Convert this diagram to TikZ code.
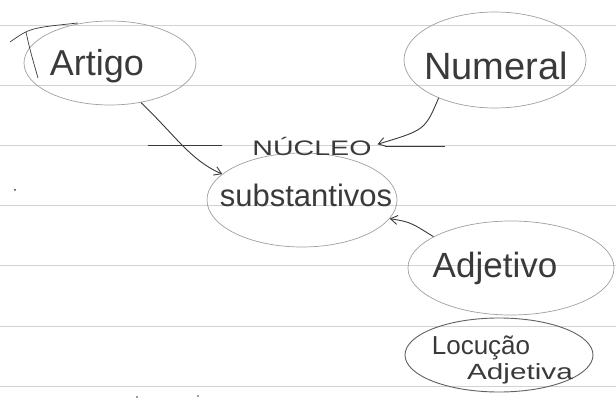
\documentclass[tikz,border=0pt]{standalone}
\usepackage{fontspec}
\setmainfont{Liberation Sans}
\usetikzlibrary{shapes.geometric,arrows.meta}
\definecolor{pencil}{HTML}{3A3A3A}
\definecolor{ring}{HTML}{A0A0A0}
\definecolor{ruled}{HTML}{D2D2D2}
\tikzset{
  ell/.style={ellipse, draw=ring, line width=0.7pt, inner sep=0pt},
  ellDark/.style={ellipse, draw=pencil!80, line width=0.9pt, inner sep=0pt},
  txt/.style={text=pencil, inner sep=0pt},
  conn/.style={draw=pencil, line width=0.9pt, -{Straight Barb[length=7pt,width=9pt]}},
  ruleline/.style={draw=ruled, line width=0.8pt},
  stroke/.style={draw=pencil, line width=0.9pt}
}
\begin{document}
\begin{tikzpicture}[x=1pt,y=-1pt]
\useasboundingbox[fill=white] (0,0) rectangle (616,398);
% ruled paper lines
\foreach \yy in {25,85,145,205,265,326,386}
  \draw[ruleline] (0,\yy) -- (616,\yy);
% ellipses
\node[ell, minimum width=172pt, minimum height=84pt] (Aell) at (110,63) {};
\node[ell, minimum width=182pt, minimum height=96pt] (Nell) at (495,60) {};
\node[ell, minimum width=190pt, minimum height=94pt] (Sell) at (302,200) {};
\node[ell, minimum width=206pt, minimum height=94pt] (Jell) at (511,268) {};
\node[ellDark, minimum width=188pt, minimum height=74pt] (Lell) at (499,355) {};
% texts
\node[txt, font=\fontsize{36}{36}\selectfont] (Atxt) at (97,66) {Artigo};
\node[txt, font=\fontsize{38}{38}\selectfont] (Ntxt) at (496,66) {Numeral};
\node[txt, font=\fontsize{31}{31}\selectfont] (Stxt) at (306,195) {substantivos};
\node[txt, font=\fontsize{35}{35}\selectfont] (Jtxt) at (495,268) {Adjetivo};
\node[txt, font=\fontsize{26}{26}\selectfont] (Ltxt) at (481,348) {Locução};
\node[txt, font=\fontsize{22}{22}\selectfont] (L2txt) at (520,374) {\scalebox{1.35}[1]{Adjetiva}};
\node[txt, font=\fontsize{21}{21}\selectfont] (Nuc) at (312,146) {\scalebox{1.36}[1]{NÚCLEO}};
% pen strokes on the ruled line beside NÚCLEO
\draw[stroke] (148,145) -- (222,145);
\draw[stroke] (385,146) -- (445,146);
% extra overdrawn stroke at Artigo's ellipse
\draw[stroke, line width=0.7pt] (10,42) .. controls (30,28) .. (78,23);
\draw[stroke, line width=0.7pt] (26,32) .. controls (30,50) .. (38,78);
% stray dots
\fill[pencil] (15,190) circle (1pt);
\fill[pencil] (137,397) circle (0.8pt);
\fill[pencil] (198,396) circle (0.8pt);
% connectors
\draw[conn] (Aell.-52) .. controls (175,135) and (190,160) .. (Sell.162);
\draw[conn, shorten >=6pt] (Nell.214) .. controls (425,130) .. (Nuc.east);
\draw[conn] (Jell.158) .. controls (410,222) .. (Sell.-12);
\end{tikzpicture}
\end{document}
